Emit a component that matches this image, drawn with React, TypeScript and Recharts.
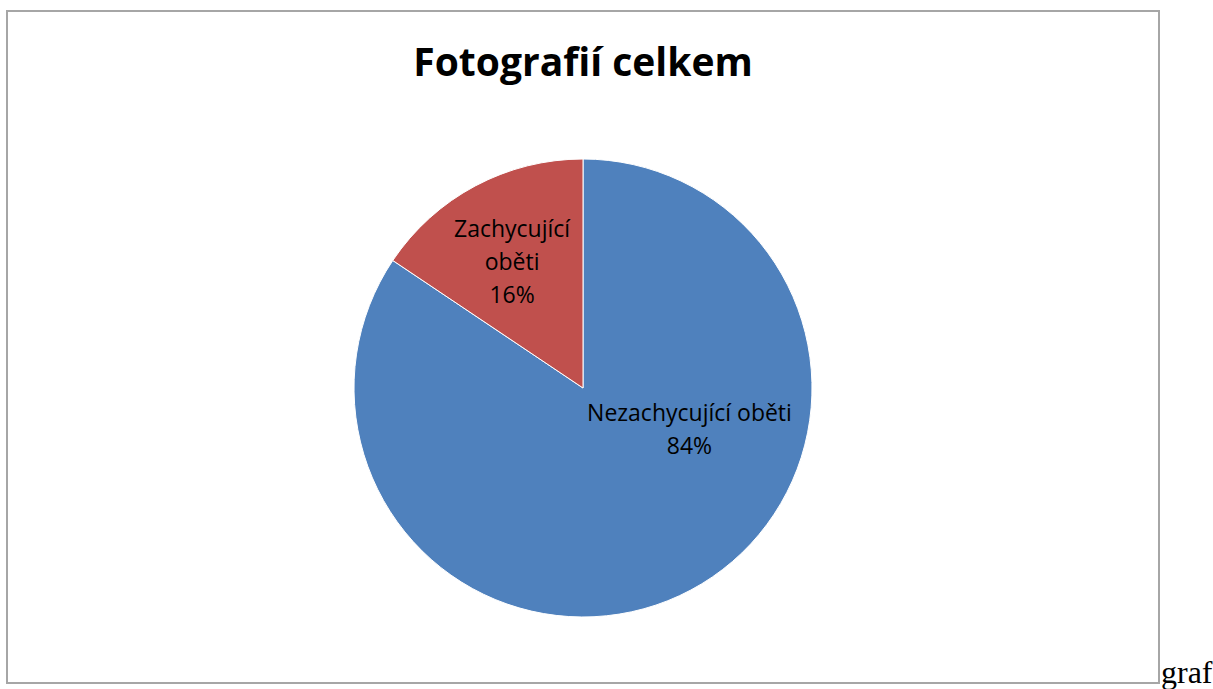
import { PieChart, Pie, Cell } from "recharts";

const categories = ["Nezachycující oběti", "Zachycující oběti"];
const values = [84.4, 15.6];
const percentLabels = ["84%", "16%"];
const sliceColors = ["#4F81BD", "#C0504D"];

const data = categories.map((name, i) => ({ name, value: values[i] }));

const labelFont = "'Open Sans', 'Noto Sans', sans-serif";

const renderLabel = (props: any) => {
  const { cx, cy, midAngle, outerRadius, index } = props;
  const RAD = Math.PI / 180;
  let x: number;
  let y: number;
  let lines: string[];
  if (index === 0) {
    // best-fit style placement, right of centre
    x = cx + outerRadius * 0.465;
    y = cy + outerRadius * 0.175;
    lines = [categories[0], percentLabels[0]];
  } else {
    const r = outerRadius * 0.63;
    x = cx + r * Math.cos(-midAngle * RAD) - 3;
    y = cy + r * Math.sin(-midAngle * RAD);
    lines = ["Zachycující", "oběti", percentLabels[1]];
  }
  const lh = 33;
  const top = y - ((lines.length - 1) * lh) / 2;
  return (
    <text
      x={x}
      y={top}
      textAnchor="middle"
      dominantBaseline="central"
      fill="#000"
      style={{ fontFamily: labelFont, fontSize: 23 }}
    >
      {lines.map((l, i) => (
        <tspan key={i} x={x} dy={i === 0 ? 0 : lh}>
          {l}
        </tspan>
      ))}
    </text>
  );
};

export default function App() {
  return (
    <div style={{ position: "absolute", left: 0, top: 0, width: 1213, height: 689 }}>
      <div
        style={{
          position: "absolute",
          left: 6,
          top: 10,
          width: 1150,
          height: 670,
          border: "2px solid #a6a6a6",
          background: "#fff",
        }}
      >
        <div
          style={{
            position: "absolute",
            left: 0,
            width: 1150,
            top: 22,
            textAlign: "center",
            fontFamily: labelFont,
            fontWeight: 700,
            fontSize: 39,
            color: "#000",
          }}
        >
          Fotografií celkem
        </div>
        <PieChart width={1150} height={670}>
          <Pie
            data={data}
            dataKey="value"
            nameKey="name"
            cx={570}
            cy={371}
            outerRadius={229}
            startAngle={90}
            endAngle={-270}
            stroke="#fff"
            strokeWidth={1}
            label={renderLabel}
            labelLine={false}
            isAnimationActive={false}
          >
            {data.map((d, i) => (
              <Cell key={d.name} fill={sliceColors[i]} />
            ))}
          </Pie>
        </PieChart>
      </div>
      <div
        style={{
          position: "absolute",
          left: 1161,
          top: 656,
          lineHeight: 1,
          fontFamily: "'Liberation Serif', serif",
          fontSize: 32,
          color: "#000",
        }}
      >
        graf
      </div>
    </div>
  );
}
